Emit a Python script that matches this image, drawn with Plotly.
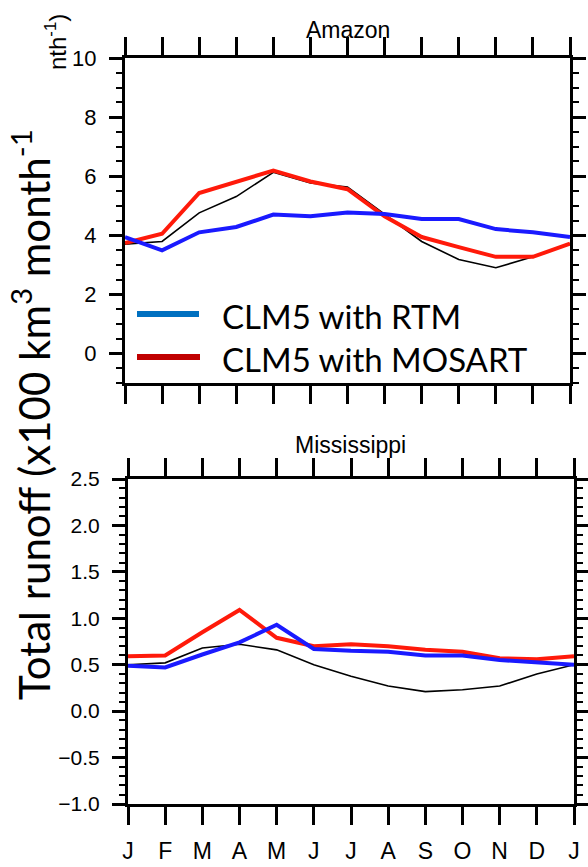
import plotly.graph_objects as go

months = ["J", "F", "M", "A", "M", "J", "J", "A", "S", "O", "N", "D", "J"]
x_idx = list(range(13))

# Amazon (x100 km3 month-1)
amazon_obs = [3.70, 3.79, 4.76, 5.31, 6.13, 5.77, 5.63, 4.70, 3.79, 3.18, 2.90, 3.27, 3.70]
amazon_mosart = [3.74, 4.05, 5.43, 5.82, 6.19, 5.82, 5.56, 4.64, 3.94, 3.60, 3.27, 3.27, 3.72]
amazon_rtm = [3.94, 3.49, 4.10, 4.28, 4.70, 4.64, 4.77, 4.72, 4.55, 4.55, 4.21, 4.10, 3.94]

# Mississippi
miss_obs = [0.50, 0.52, 0.68, 0.72, 0.66, 0.50, 0.375, 0.27, 0.21, 0.23, 0.27, 0.40, 0.50]
miss_mosart = [0.59, 0.60, 0.85, 1.09, 0.79, 0.70, 0.72, 0.70, 0.66, 0.64, 0.57, 0.56, 0.59]
miss_rtm = [0.49, 0.47, 0.61, 0.74, 0.93, 0.67, 0.65, 0.64, 0.60, 0.60, 0.55, 0.53, 0.50]

legend_labels = ["CLM5 with RTM", "CLM5 with MOSART"]

W, H = 588, 867
NCL_FONT = "Liberation Sans, Arial, sans-serif"
GILL = "Lato, Open Sans, sans-serif"

fig = go.Figure()

def add_panel(xa, ya, obs, mos, rtm):
    fig.add_trace(go.Scatter(x=x_idx, y=obs, mode="lines", line=dict(color="black", width=1.6),
                             xaxis=xa, yaxis=ya, showlegend=False))
    fig.add_trace(go.Scatter(x=x_idx, y=mos, mode="lines", line=dict(color="#ff1a0a", width=4),
                             xaxis=xa, yaxis=ya, showlegend=False))
    fig.add_trace(go.Scatter(x=x_idx, y=rtm, mode="lines", line=dict(color="#1a1aff", width=4),
                             xaxis=xa, yaxis=ya, showlegend=False))

add_panel("x", "y", amazon_obs, amazon_mosart, amazon_rtm)
add_panel("x2", "y2", miss_obs, miss_mosart, miss_rtm)

def xaxis_cfg(domain, anchor, labels):
    return dict(domain=domain, anchor=anchor, range=[0, 12], tickmode="array",
                tickvals=x_idx, ticktext=months, showticklabels=labels,
                ticks="outside", ticklen=18, tickwidth=2.5, tickcolor="black",
                showline=True, linewidth=3, linecolor="black", mirror="ticks",
                showgrid=False, zeroline=False, automargin=False,
                tickfont=dict(family=NCL_FONT, size=23, color="black"),
                ticklabelstandoff=6)

def yaxis_cfg(domain, anchor, rng, dtick, minor_dtick, fmt, fsize):
    return dict(domain=domain, anchor=anchor, range=rng, tick0=0, dtick=dtick,
                tickformat=fmt, ticks="outside", ticklen=13, tickwidth=2.5, tickcolor="black",
                minor=dict(ticks="outside", ticklen=6, tickwidth=1.5, tickcolor="black",
                           dtick=minor_dtick, tick0=0, showgrid=False),
                showline=True, linewidth=3, linecolor="black", mirror="ticks",
                showgrid=False, zeroline=False, automargin=False,
                tickfont=dict(family=NCL_FONT, size=fsize, color="black"),
                ticklabelstandoff=8)

top_y = [1 - 383 / H, 1 - 58 / H]
bot_y = [1 - 804 / H, 1 - 479 / H]
top_x = [125 / W, 570 / W]
bot_x = [128 / W, 574 / W]

fig.update_layout(
    template="none",
    width=W, height=H,
    margin=dict(l=0, r=0, t=0, b=0, autoexpand=False),
    paper_bgcolor="white", plot_bgcolor="white",
    showlegend=False,
    xaxis=xaxis_cfg(top_x, "y", False),
    yaxis=yaxis_cfg(top_y, "x", [-1, 10], 2, 0.5, "d", 22),
    xaxis2=xaxis_cfg(bot_x, "y2", True),
    yaxis2=yaxis_cfg(bot_y, "x2", [-1, 2.5], 0.5, 0.1, ".1f", 21),
)

def ann(text, x, y, size, family, angle=0, xanchor="center"):
    return dict(text=text, x=x / W, y=1 - y / H, xref="paper", yref="paper",
                xanchor=xanchor, yanchor="middle", showarrow=False, textangle=angle,
                font=dict(family=family, size=size, color="black"))

annotations = [
    ann("Amazon", 348, 30, 23, NCL_FONT),
    ann("Mississippi", 350, 445, 23, NCL_FONT),
    ann("nth<sup>-1</sup>)", 56, 42, 24, NCL_FONT, angle=-90),
    ann("Total runoff (x100 km<sup>3</sup> month<sup>-1</sup>", 31, 415, 42, GILL, angle=-90),
    ann(legend_labels[0], 220, 316, 33, GILL, xanchor="left"),
    ann(legend_labels[1], 220, 359, 33, GILL, xanchor="left"),
]
fig.update_layout(annotations=annotations)

shapes = [
    dict(type="line", xref="paper", yref="paper", x0=137 / W, x1=199 / W,
         y0=1 - 314 / H, y1=1 - 314 / H, line=dict(color="#0070C0", width=6)),
    dict(type="line", xref="paper", yref="paper", x0=137 / W, x1=200 / W,
         y0=1 - 357 / H, y1=1 - 357 / H, line=dict(color="#C00000", width=6)),
]
fig.update_layout(shapes=shapes)

fig.write_html("out.html")
